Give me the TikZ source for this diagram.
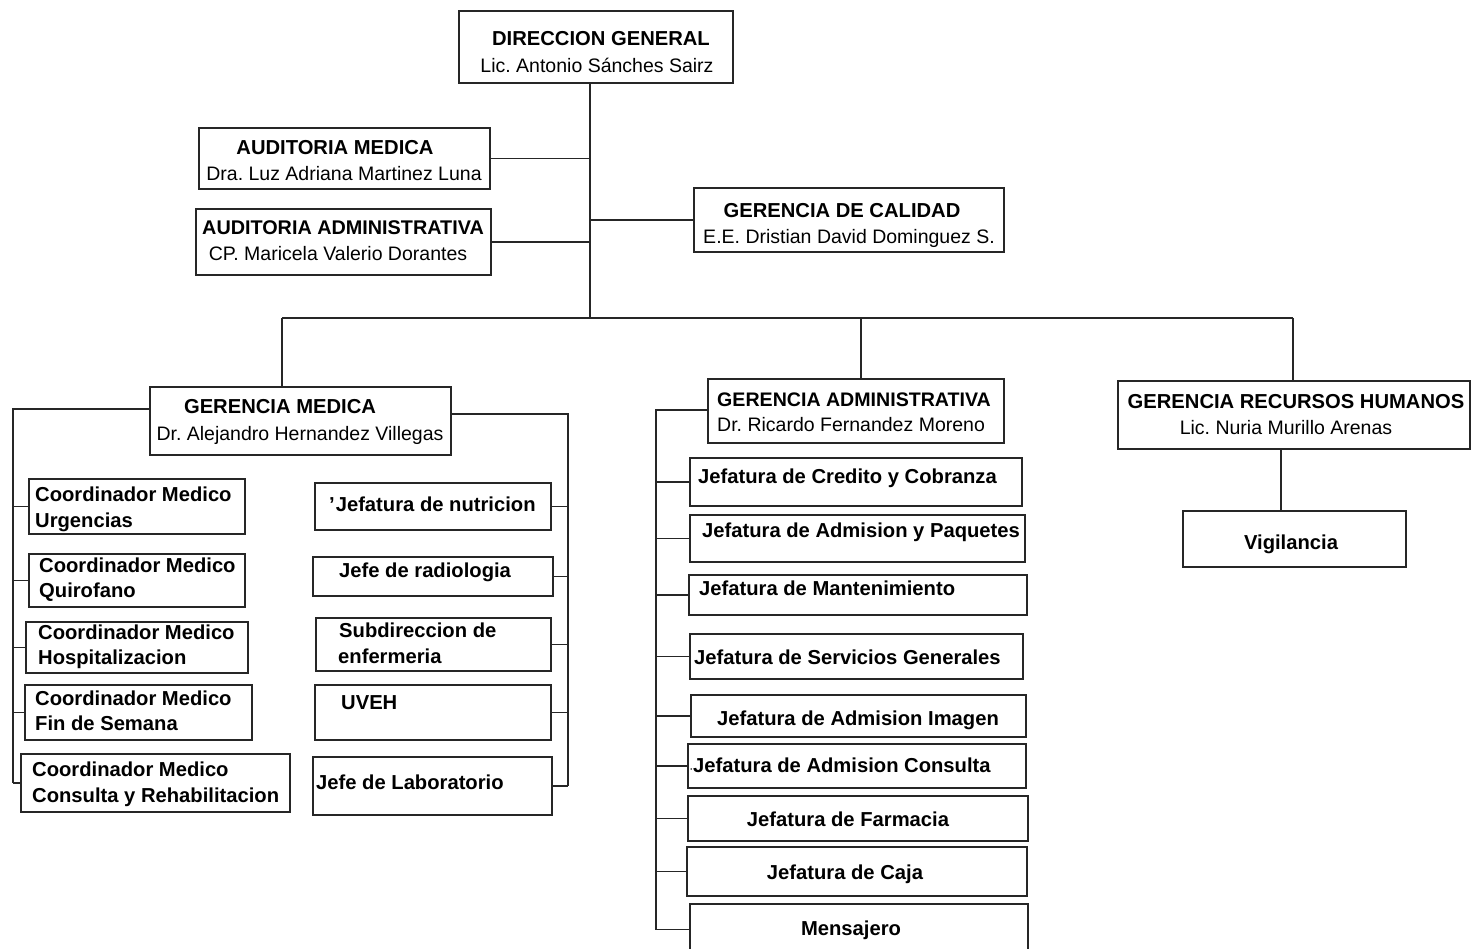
\documentclass[tikz,border=0pt]{standalone}
\usepackage{fontspec}
\setmainfont{Liberation Sans}
\usetikzlibrary{fit}
\frenchspacing
\begin{document}
\begin{tikzpicture}[x=1pt,y=-1pt,
  boxst/.style={draw=black!85, line width=1.5pt, inner sep=0pt},
  lnk/.style={draw=black!85, line width=1.6pt},
  bt/.style={font=\fontsize{20.2}{24}\selectfont\bfseries, inner sep=0pt, anchor=base west},
  rt/.style={font=\fontsize{19.5}{24}\selectfont, inner sep=0pt, anchor=base west},
  btc/.style={bt, anchor=base},
  rtc/.style={rt, anchor=base}]
\useasboundingbox[fill=white] (0,0) rectangle (1477,949);
\clip (0,0) rectangle (1477,949);

% ---------- top level ----------
\node[boxst, fit={(459,11)(733,83)}] (dg) {};
\node[btc] (dg1) at (601,46) {DIRECCION GENERAL};
\node[rtc] (dg2) at (597,73) {Lic. Antonio Sánches Sairz};

\node[boxst, fit={(199,128)(490,189)}] (am) {};
\node[btc] (am1) at (335,155) {AUDITORIA MEDICA};
\node[rtc] (am2) at (344,181) {Dra. Luz Adriana Martinez Luna};

\node[boxst, fit={(196,209)(491,275)}] (aa) {};
\node[btc, font=\fontsize{19.8}{24}\selectfont\bfseries] (aa1) at (343,235) {AUDITORIA ADMINISTRATIVA};
\node[rtc] (aa2) at (338,261) {CP. Maricela Valerio Dorantes};

\node[boxst, fit={(694,188)(1004,252)}] (gc) {};
\node[btc] (gc1) at (842,218) {GERENCIA DE CALIDAD};
\node[rtc] (gc2) at (849,244) {E.E. Dristian David Dominguez S.};

\coordinate (j0) at (590,318);
\coordinate (busL) at (282,318);
\coordinate (busGA) at (861,318);
\coordinate (busR) at (1293,318);

\draw[lnk] (dg.south -| j0) -- (j0);
\draw[lnk] (am.east) -- (am.east -| j0);
\draw[lnk] (aa.east) -- (aa.east -| j0);
\draw[lnk] (gc.west) -- (gc.west -| j0);
\draw[lnk] (busL) -- (busR);

% ---------- Gerencia Medica ----------
\node[boxst, fit={(150,387)(451,455)}] (gm) {};
\node[btc] (gm1) at (280,413) {GERENCIA MEDICA};
\node[rtc] (gm2) at (300,440) {Dr. Alejandro Hernandez Villegas};
\draw[lnk] (busL) -- (gm.north -| busL);

\node[boxst, fit={(29,479)(245,534)}] (c1) {};
\node[bt] (c1a) at (35,501) {Coordinador Medico};
\node[bt] (c1b) at (35,527) {Urgencias};
\node[boxst, fit={(29,554)(245,607)}] (c2) {};
\node[bt] (c2a) at (39,572) {Coordinador Medico};
\node[bt] (c2b) at (39,597) {Quirofano};
\node[boxst, fit={(26,622)(248,673)}] (c3) {};
\node[bt] (c3a) at (38,639) {Coordinador Medico};
\node[bt] (c3b) at (38,664) {Hospitalizacion};
\node[boxst, fit={(25,685)(252,740)}] (c4) {};
\node[bt] (c4a) at (35,705) {Coordinador Medico};
\node[bt] (c4b) at (35,730) {Fin de Semana};
\node[boxst, fit={(21,754)(290,812)}] (c5) {};
\node[bt] (c5a) at (32,776) {Coordinador Medico};
\node[bt] (c5b) at (32,802) {Consulta y Rehabilitacion};

\coordinate (gml) at (13,409);
\draw[lnk] (gm.west |- gml) -- (gml) -- (gml |- c5.west);
\foreach \n in {c1,c2,c3,c4,c5} \draw[lnk] (\n.west -| gml) -- (\n.west);

\node[boxst, fit={(315,483)(551,530)}] (r1) {};
\node[bt] (r1a) at (329,511) {'\kern1pt Jefatura de nutricion};
\node[boxst, fit={(313,557)(553,596)}] (r2) {};
\node[bt] (r2a) at (339,577) {Jefe de radiologia};
\node[boxst, fit={(316,618)(551,671)}] (r3) {};
\node[bt] (r3a) at (339,637) {Subdireccion de};
\node[bt] (r3b) at (338,663) {enfermeria};
\node[boxst, fit={(315,685)(551,740)}] (r4) {};
\node[bt] (r4a) at (341,709) {UVEH};
\node[boxst, fit={(313,757)(552,815)}] (r5) {};
\node[bt] (r5a) at (316,789) {Jefe de Laboratorio};

\coordinate (gmr) at (568,414);
\draw[lnk] (gm.east |- gmr) -- (gmr) -- (gmr |- r5.east);
\foreach \n in {r1,r2,r3,r4,r5} \draw[lnk] (\n.east) -- (\n.east -| gmr);

% ---------- Gerencia Administrativa ----------
\node[boxst, fit={(708,379)(1004,443)}] (ga) {};
\node[bt, font=\fontsize{19.6}{24}\selectfont\bfseries] (ga1) at (717,406) {GERENCIA ADMINISTRATIVA};
\node[rt] (ga2) at (717,431) {Dr. Ricardo Fernandez Moreno};
\draw[lnk] (busGA) -- (ga.north -| busGA);

\node[boxst, fit={(690,458)(1022,506)}] (a1) {};
\node[bt] (a1t) at (698,483) {Jefatura de Credito y Cobranza};
\node[boxst, fit={(690,515)(1025,562)}] (a2) {};
\node[bt] (a2t) at (702,537) {Jefatura de Admision y Paquetes};
\node[boxst, fit={(689,575)(1027,615)}] (a3) {};
\node[bt] (a3t) at (699,595) {Jefatura de Mantenimiento};
\node[boxst, fit={(690,634)(1023,679)}] (a4) {};
\node[bt] (a4t) at (694,664) {Jefatura de Servicios Generales};
\node[boxst, fit={(691,695)(1026,737)}] (a5) {};
\node[btc] (a5t) at (858,725) {Jefatura de Admision Imagen};
\node[boxst, fit={(688,744)(1026,788)}] (a6) {};
\node[bt] (a6t) at (691,772) {\kern-1pt{\fontsize{9}{9}\selectfont·}Jefatura de Admision Consulta};
\node[boxst, fit={(688,796)(1028,841)}] (a7) {};
\node[btc] (a7t) at (848,826) {Jefatura de Farmacia};
\node[boxst, fit={(687,847)(1027,896)}] (a8) {};
\node[btc] (a8t) at (845,879) {Jefatura de Caja};
\node[boxst, fit={(690,904)(1028,955)}] (a9) {};
\node[btc] (a9t) at (851,935) {Mensajero};

\coordinate (gab) at (656,410);
\draw[lnk] (ga.west |- gab) -- (gab) -- (gab |- a9.west);
\foreach \n in {a1,a2,a3,a4,a5,a6,a7,a8,a9} \draw[lnk] (\n.west -| gab) -- (\n.west);

% ---------- Recursos Humanos ----------
\node[boxst, fit={(1118,381)(1470,449)}] (rh) {};
\node[btc] (rh1) at (1296,408) {GERENCIA RECURSOS HUMANOS};
\node[rtc] (rh2) at (1286,434) {Lic. Nuria Murillo Arenas};
\draw[lnk] (busR) -- (rh.north -| busR);

\node[boxst, fit={(1183,511)(1406,567)}] (vig) {};
\node[btc] (vigt) at (1291,549) {Vigilancia};
\coordinate (rhv) at (1281,449);
\draw[lnk] (rh.south -| rhv) -- (vig.north -| rhv);
\end{tikzpicture}
\end{document}
